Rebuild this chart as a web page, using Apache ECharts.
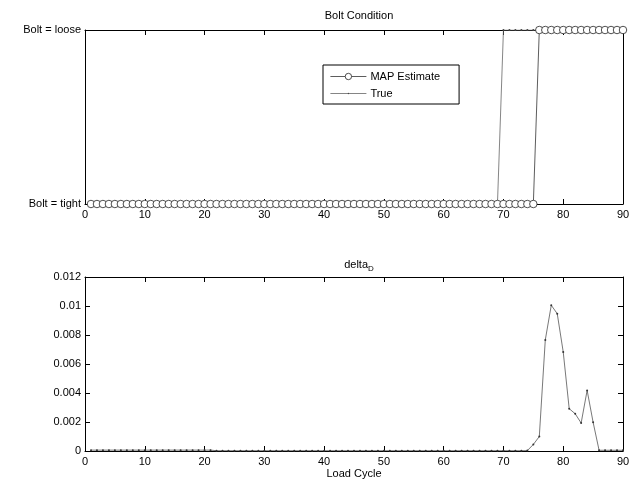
<!DOCTYPE html>
<html>
<head>
<meta charset="utf-8">
<script src="https://cdn.jsdelivr.net/npm/echarts@6/dist/echarts.min.js"></script>
<style>
  html, body { margin: 0; padding: 0; background: #fff; }
  #chart { width: 639px; height: 485px; }
</style>
</head>
<body>
<div id="chart"></div>
<script>
// Load cycle index
const cycles = [
  1, 2, 3, 4, 5, 6, 7, 8, 9, 10,
  11, 12, 13, 14, 15, 16, 17, 18, 19, 20,
  21, 22, 23, 24, 25, 26, 27, 28, 29, 30,
  31, 32, 33, 34, 35, 36, 37, 38, 39, 40,
  41, 42, 43, 44, 45, 46, 47, 48, 49, 50,
  51, 52, 53, 54, 55, 56, 57, 58, 59, 60,
  61, 62, 63, 64, 65, 66, 67, 68, 69, 70,
  71, 72, 73, 74, 75, 76, 77, 78, 79, 80,
  81, 82, 83, 84, 85, 86, 87, 88, 89, 90
];

// Bolt state: 0 = tight, 1 = loose
const mapEstimate = [
  0, 0, 0, 0, 0, 0, 0, 0, 0, 0,
  0, 0, 0, 0, 0, 0, 0, 0, 0, 0,
  0, 0, 0, 0, 0, 0, 0, 0, 0, 0,
  0, 0, 0, 0, 0, 0, 0, 0, 0, 0,
  0, 0, 0, 0, 0, 0, 0, 0, 0, 0,
  0, 0, 0, 0, 0, 0, 0, 0, 0, 0,
  0, 0, 0, 0, 0, 0, 0, 0, 0, 0,
  0, 0, 0, 0, 0, 1, 1, 1, 1, 1,
  1, 1, 1, 1, 1, 1, 1, 1, 1, 1
];

const trueState = [
  0, 0, 0, 0, 0, 0, 0, 0, 0, 0,
  0, 0, 0, 0, 0, 0, 0, 0, 0, 0,
  0, 0, 0, 0, 0, 0, 0, 0, 0, 0,
  0, 0, 0, 0, 0, 0, 0, 0, 0, 0,
  0, 0, 0, 0, 0, 0, 0, 0, 0, 0,
  0, 0, 0, 0, 0, 0, 0, 0, 0, 0,
  0, 0, 0, 0, 0, 0, 0, 0, 0, 1,
  1, 1, 1, 1, 1, 1, 1, 1, 1, 1,
  1, 1, 1, 1, 1, 1, 1, 1, 1, 1
];

// delta_D per load cycle
const deltaD = [
  0.00006, 0.00006, 0.00006, 0.00006, 0.00006, 0.00006, 0.00006, 0.00006, 0.00006, 0.00006,
  0.00006, 0.00006, 0.00006, 0.00006, 0.00006, 0.00006, 0.00006, 0.00006, 0.00006, 0.00006,
  0.00006, 0.00002, 0.00002, 0.00002, 0.00002, 0.00002, 0.00002, 0.00002, 0.00002, 0.00002,
  0.00002, 0.00002, 0.00002, 0.00002, 0.00002, 0.00002, 0.00002, 0.00002, 0.00002, 0.00002,
  0.00002, 0.00002, 0.00002, 0.00002, 0.00002, 0.00002, 0.00002, 0.00002, 0.00002, 0.00002,
  0.00002, 0.00002, 0.00002, 0.00002, 0.00002, 0.00002, 0.00002, 0.00002, 0.00002, 0.00002,
  0.00002, 0.00002, 0.00002, 0.00002, 0.00002, 0.00002, 0.00002, 0.00002, 0.00002, 0.00002,
  0.00002, 0.00002, 0.00002, 0.00003, 0.00045, 0.00100, 0.00766, 0.01005, 0.00947, 0.00683,
  0.00292, 0.00257, 0.00193, 0.00418, 0.00198, 0.00005, 0.00005, 0.00005, 0.00005, 0.00005
];

const xTicks = { min: 0, max: 90, interval: 10 };
const stateLabels = { 0: 'Bolt = tight', 1: 'Bolt = loose' };

const FONT = 'Liberation Sans, Arial, sans-serif';
const txt = { color: '#000', fontFamily: FONT, fontSize: 11 };
const axisLine = { show: true, onZero: false, lineStyle: { color: '#000', width: 1 } };
const tickIn = { show: true, inside: true, length: 5, lineStyle: { color: '#000', width: 1 } };

// Small dot centred in a 10x10 box, so the legend icon keeps it tiny too
const DOT = 'path://M0,0M10,10M4,5A1,1,0,1,0,6,5A1,1,0,1,0,4,5Z';

function xAxisPair(grid, withName) {
  return [
    {
      type: 'value', gridIndex: grid, position: 'bottom',
      min: xTicks.min, max: xTicks.max, interval: xTicks.interval,
      axisLine, axisTick: tickIn, splitLine: { show: false },
      axisLabel: Object.assign({ margin: 5 }, txt),
      name: withName ? 'Load Cycle' : '', nameLocation: 'middle', nameGap: 17,
      nameTextStyle: txt
    },
    {
      type: 'value', gridIndex: grid, position: 'top',
      min: xTicks.min, max: xTicks.max, interval: xTicks.interval,
      axisLine, axisTick: tickIn, splitLine: { show: false },
      axisLabel: { show: false }
    }
  ];
}

const option = {
  animation: false,
  backgroundColor: '#fff',
  title: [
    {
      text: 'Bolt Condition', left: 354, top: 5, textAlign: 'center',
      textStyle: Object.assign({ fontWeight: 'normal' }, txt)
    },
    {
      text: '{a|delta}{b|D}', left: 354, top: 251, textAlign: 'center',
      textStyle: {
        fontWeight: 'normal',
        rich: {
          a: { fontFamily: FONT, fontSize: 11, color: '#000' },
          b: { fontFamily: FONT, fontSize: 8, color: '#000', padding: [9, 0, 0, 0] }
        }
      }
    }
  ],
  legend: {
    data: ['MAP Estimate', 'True'],
    orient: 'vertical',
    left: 323, top: 65,
    itemWidth: 36, itemHeight: 8, itemGap: 6,
    padding: [6, 19, 5, 7],
    borderColor: '#000', borderWidth: 1,
    backgroundColor: '#fff',
    lineStyle: { width: 0.8 },
    itemStyle: { borderWidth: 0.8 },
    textStyle: Object.assign({ padding: [0, 0, 0, -1] }, txt)
  },
  grid: [
    { left: 85, top: 30, width: 538, height: 174 },
    { left: 85, top: 277, width: 538, height: 174 }
  ],
  xAxis: [].concat(xAxisPair(0, false), xAxisPair(1, true)),
  yAxis: [
    {
      type: 'value', gridIndex: 0, position: 'left', min: 0, max: 1, interval: 1,
      axisLine, axisTick: tickIn, splitLine: { show: false },
      axisLabel: Object.assign({ margin: 4, formatter: v => stateLabels[v] }, txt)
    },
    {
      type: 'value', gridIndex: 0, position: 'right', min: 0, max: 1, interval: 1,
      axisLine, axisTick: tickIn, splitLine: { show: false }, axisLabel: { show: false }
    },
    {
      type: 'value', gridIndex: 1, position: 'left', min: 0, max: 0.012, interval: 0.002,
      axisLine, axisTick: tickIn, splitLine: { show: false },
      axisLabel: Object.assign({
        margin: 4,
        formatter: v => String(parseFloat(v.toFixed(3)))
      }, txt)
    },
    {
      type: 'value', gridIndex: 1, position: 'right', min: 0, max: 0.012, interval: 0.002,
      axisLine, axisTick: tickIn, splitLine: { show: false }, axisLabel: { show: false }
    }
  ],
  series: [
    {
      name: 'MAP Estimate', type: 'line', xAxisIndex: 0, yAxisIndex: 0,
      data: cycles.map((c, i) => [c, mapEstimate[i]]),
      showSymbol: true, showAllSymbol: true,
      symbol: 'circle', symbolSize: 7.5,
      itemStyle: { color: '#fff', borderColor: '#222', borderWidth: 0.8 },
      lineStyle: { color: '#333', width: 0.8 },
      z: 3
    },
    {
      name: 'True', type: 'line', xAxisIndex: 0, yAxisIndex: 0,
      data: cycles.map((c, i) => [c, trueState[i]]),
      showSymbol: true, showAllSymbol: true,
      symbol: DOT, symbolSize: 10,
      itemStyle: { color: '#444', borderWidth: 0 },
      lineStyle: { color: '#666', width: 0.8 },
      z: 2
    },
    {
      name: 'deltaD', type: 'line', xAxisIndex: 2, yAxisIndex: 2,
      data: cycles.map((c, i) => [c, deltaD[i]]),
      showSymbol: true, showAllSymbol: true,
      symbol: DOT, symbolSize: 10,
      itemStyle: { color: '#333', borderWidth: 0 },
      lineStyle: { color: '#555', width: 0.8 }
    }
  ]
};

echarts.init(document.getElementById('chart'), null, { renderer: 'canvas' }).setOption(option);
</script>
</body>
</html>
